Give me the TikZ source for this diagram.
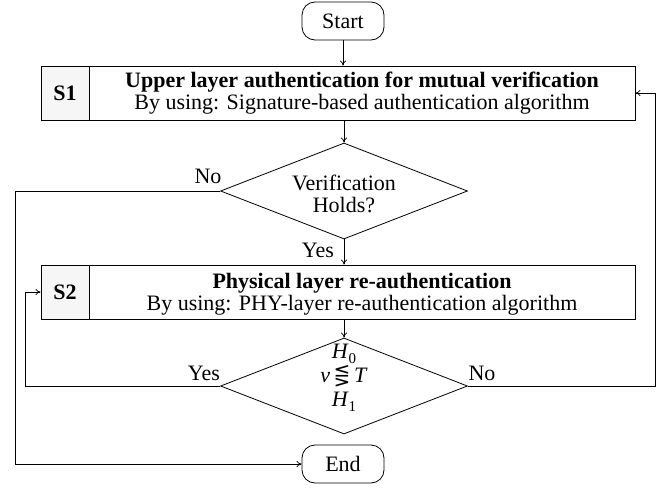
\documentclass[tikz,border=0pt]{standalone}
\usepackage{fontspec}
\setmainfont{Liberation Serif}
\newfontfamily\symfnt{DejaVu Sans}
\usetikzlibrary{shapes.geometric,arrows.meta}
\begin{document}
\begin{tikzpicture}[x=1pt,y=-1pt,
  line width=0.8pt,
  every node/.style={font=\fontsize{22}{22}\selectfont},
  term/.style={draw,rounded corners=13pt,minimum width=82pt,minimum height=38pt,inner sep=0pt},
  procbox/.style={draw,minimum width=594pt,minimum height=54pt,inner sep=0pt},
  tagcell/.style={draw,fill=gray!7,minimum width=48pt,minimum height=54pt,inner sep=0pt,font=\fontsize{22}{22}\selectfont\bfseries},
  txt/.style={align=center,inner sep=0pt},
  decision/.style={draw,diamond,minimum width=247pt,minimum height=96pt,inner sep=0pt},
  lbl/.style={inner sep=0pt},
  arr/.style={-{To[length=5pt,width=6pt]}}
]
\useasboundingbox (0,0) rectangle (670,490);

\node[term] (start) at (343,21) {Start};

\node[procbox] (s1) at (338,93) {};
\node[tagcell] (t1) at (65,93) {S1};
\node[txt] (s1t) at (362,93) {\textbf{Upper layer authentication for mutual verification}\\By using: Signature-based authentication algorithm};

\node[decision] (d1) at (344,191) {};
\node[txt] (d1t) at (344,194) {Verification\\Holds?};

\node[procbox] (s2) at (338,292) {};
\node[tagcell] (t2) at (65,292) {S2};
\node[txt] (s2t) at (362,294) {\textbf{Physical layer re-authentication}\\By using: PHY-layer re-authentication algorithm};

\node[decision] (d2) at (344,386) {};
\node[txt,font=\fontsize{22}{24}\selectfont] (d2t) at (344,378) {\textit{H}\raisebox{-0.25em}{\fontsize{15}{15}\selectfont 0}\\\textit{v}\,{\symfnt\fontsize{20}{20}\selectfont ⋚}\,\textit{T}\\\textit{H}\raisebox{-0.25em}{\fontsize{15}{15}\selectfont 1}};

\node[term] (end) at (343,464) {End};

\coordinate (c1) at (15,191);
\coordinate (c2) at (15,464);
\coordinate (c3) at (25,386);
\coordinate (c4) at (25,292);
\coordinate (c5) at (655,386);
\coordinate (c6) at (655,93);

\draw[arr] (start.south) -- (start.south |- s1.north);
\draw[arr] (s1.south -| d1.north) -- (d1.north);
\draw[arr] (d1.south) -- (d1.south |- s2.north);
\draw[arr] (s2.south -| d2.north) -- (d2.north);
\draw[arr] (d1.west) -- (c1) -- (c2) -- (end.west);
\draw[arr] (d2.west) -- (c3) -- (c4) -- (s2.west);
\draw[arr] (d2.east) -- (c5) -- (c6) -- (s1.east);

\node[lbl] (l1) at (208,176) {No};
\node[lbl] (l2) at (318,250) {Yes};
\node[lbl] (l3) at (204,373) {Yes};
\node[lbl] (l4) at (482,373) {No};
\end{tikzpicture}
\end{document}
